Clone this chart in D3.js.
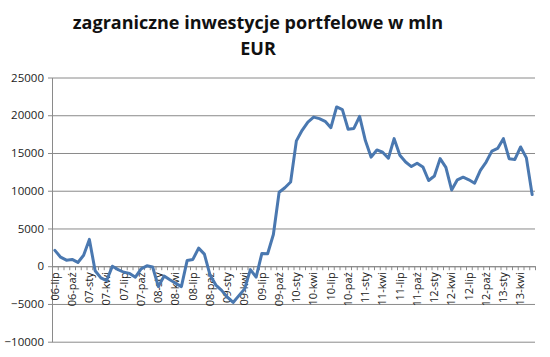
<!DOCTYPE html>
<html><head><meta charset="utf-8">
<script src="https://cdn.jsdelivr.net/npm/d3@7"></script>
<style>
body{margin:0;background:#fff;}
svg{display:block;}
</style></head>
<body>
<svg id="c" width="550" height="357"></svg>
<script>
const titleLines = ["zagraniczne inwestycje portfelowe w mln", "EUR"];
const years = ["06","07","08","09","10","11","12","13"];
const monthNames = ["sty","lut","mar","kwi","maj","cze","lip","sie","wrz","paź","lis","gru"];
const categories = [];
years.forEach((yy, yi) => monthNames.forEach((m, mi) => {
  const idx = yi * 12 + mi;
  if (idx >= 6 && idx < 90) categories.push(yy + "-" + m);
}));
const values = [
  2100, 1200, 800, 900, 500, 1450, 3550, -600, -1550, -1900,
  0, -450, -800, -950, -1450, -350, 50, -100, -2700, -1300,
  -1800, -2250, -2700, 750, 900, 2400, 1600, -1200, -2500, -3200,
  -4100, -4800, -3900, -3000, -450, -1450, 1700, 1650, 4200, 9800,
  10400, 11150, 16600, 18000, 19100, 19750, 19550, 19200, 18350, 21100,
  20750, 18150, 18250, 19850, 16650, 14450, 15400, 15100, 14300, 16900,
  14700, 13800, 13200, 13650, 13150, 11350, 11950, 14250, 13100, 10100,
  11450, 11800, 11450, 11000, 12700, 13800, 15250, 15600, 16900, 14250,
  14150, 15800, 14350, 9500
];
const xTickLabels = ["06-lip","06-paź","07-sty","07-kwi","07-lip","07-paź","08-sty","08-kwi","08-lip","08-paź","09-sty","09-kwi","09-lip","09-paź","10-sty","10-kwi","10-lip","10-paź","11-sty","11-kwi","11-lip","11-paź","12-sty","12-kwi","12-lip","12-paź","13-sty","13-kwi"];
const yTicks = [-10000, -5000, 0, 5000, 10000, 15000, 20000, 25000];

const svg = d3.select("#c");
const L = 52, R = 535, T = 77.5, B = 341.7;
const x = d3.scaleBand().domain(categories).range([L, R]).padding(0);
const xb = d3.scaleLinear().domain([0, categories.length]).range([L, R]);
const y = d3.scaleLinear().domain([-10000, 25000]).range([B, T]);
const font = "'Open Sans', sans-serif";

// title
svg.append("g").selectAll("text").data(titleLines).join("text")
  .attr("x", 258).attr("y", (d, i) => 29 + i * 26)
  .attr("text-anchor", "middle")
  .attr("font-family", font).attr("font-weight", "bold").attr("font-size", 18)
  .attr("fill", "#111").text(d => d);

// gridlines
svg.append("g").attr("transform", `translate(${L},0)`)
  .call(d3.axisLeft(y).tickValues(yTicks).tickSize(-(R - L)).tickFormat(""))
  .call(g => g.select(".domain").remove())
  .selectAll("line").attr("stroke", "#8a8a8a").attr("stroke-width", 1);

// y axis
const ya = svg.append("g").attr("transform", `translate(${L},0)`)
  .call(d3.axisLeft(y).tickValues(yTicks).tickSize(4).tickSizeOuter(0).tickPadding(4).tickFormat(d3.format("d")));
ya.select(".domain").attr("stroke", "#8a8a8a");
ya.selectAll("line").attr("stroke", "#8a8a8a");
ya.selectAll("text").attr("font-family", font).attr("font-size", 11.5).attr("fill", "#222");

// x axis ticks at category boundaries
const xa = svg.append("g").attr("transform", `translate(0,${y(0)})`)
  .call(d3.axisBottom(xb).tickValues(d3.range(categories.length + 1)).tickSize(4).tickSizeOuter(0).tickFormat(""));
xa.select(".domain").attr("stroke", "#8a8a8a");
xa.selectAll("line").attr("stroke", "#8a8a8a");

// x labels
const xl = svg.append("g").attr("transform", `translate(0,${y(0)})`)
  .call(d3.axisBottom(x).tickValues(xTickLabels).tickSize(0).tickPadding(0));
xl.select(".domain").remove();
xl.selectAll("text")
  .attr("font-family", font).attr("font-size", 11).attr("fill", "#222")
  .attr("transform", "rotate(-90)")
  .attr("text-anchor", "end")
  .attr("x", -6).attr("y", 0).attr("dy", "0.35em");

// line
svg.append("path").datum(values)
  .attr("fill", "none").attr("stroke", "#4a78b0").attr("stroke-width", 3)
  .attr("stroke-linejoin", "round").attr("stroke-linecap", "round")
  .attr("d", d3.line().x((d, i) => x(categories[i]) + x.bandwidth() / 2).y(d => y(d)));
</script>
</body></html>
